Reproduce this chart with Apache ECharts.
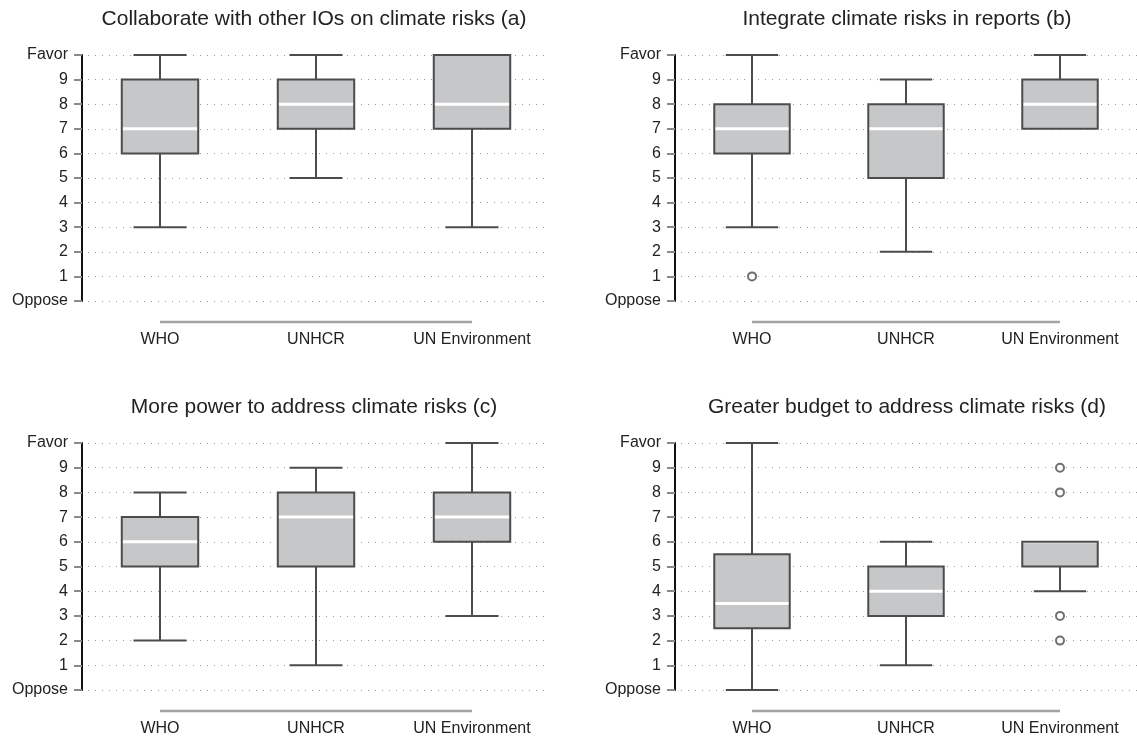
<!DOCTYPE html>
<html>
<head>
<meta charset="utf-8">
<script src="https://cdn.jsdelivr.net/npm/echarts@6/dist/echarts.min.js"></script>
<style>
html,body{margin:0;padding:0;background:#fff;}
#chart{width:1137px;height:737px;}
</style>
</head>
<body>
<div id="chart"></div>
<script>
// ---- data ----
const categories = ['WHO', 'UNHCR', 'UN Environment'];
const yTickLabels = ['Oppose', '1', '2', '3', '4', '5', '6', '7', '8', '9', 'Favor'];
const panelTitles = [
  'Collaborate with other IOs on climate risks (a)',
  'Integrate climate risks in reports (b)',
  'More power to address climate risks (c)',
  'Greater budget to address climate risks (d)'
];
// [min, q1, median, q3, max] per category
const statsA = [[3, 6, 7, 9, 10], [5, 7, 8, 9, 10], [3, 7, 8, 10, 10]];
const statsB = [[3, 6, 7, 8, 10], [2, 5, 7, 8, 9], [7, 7, 8, 9, 10]];
const statsC = [[2, 5, 6, 7, 8], [1, 5, 7, 8, 9], [3, 6, 7, 8, 10]];
const statsD = [[0, 2.5, 3.5, 5.5, 10], [1, 3, 4, 5, 6], [4, 5, 6, 6, 6]];
const outliersA = [];
const outliersB = [['WHO', 1]];
const outliersC = [];
const outliersD = [['UN Environment', 9], ['UN Environment', 8], ['UN Environment', 3], ['UN Environment', 2]];

// ---- layout ----
const allStats = [statsA, statsB, statsC, statsD];
const allOutliers = [outliersA, outliersB, outliersC, outliersD];
const gridPos = [
  { left: 82, top: 55, width: 468, height: 246 },
  { left: 675, top: 55, width: 468, height: 246 },
  { left: 82, top: 443, width: 468, height: 247 },
  { left: 675, top: 443, width: 468, height: 247 }
];
const titlePos = [
  { left: 314, top: 9 }, { left: 907, top: 9 },
  { left: 314, top: 397 }, { left: 907, top: 397 }
];
const FONT = '"Liberation Sans", Arial, Helvetica, sans-serif';
const BOX_FILL = '#c6c7c9';
const BOX_LINE = '#4c4c4c';

function boxRender(params, api) {
  const xi = api.value(0);
  const vmin = api.value(1), q1 = api.value(2), med = api.value(3), q3 = api.value(4), vmax = api.value(5);
  const band = api.size([1, 0])[0];
  const bw = band * 0.49, cw = band * 0.34;
  const pMin = api.coord([xi, vmin]), pQ1 = api.coord([xi, q1]), pMed = api.coord([xi, med]);
  const pQ3 = api.coord([xi, q3]), pMax = api.coord([xi, vmax]);
  const cx = pMin[0];
  const ls = { stroke: BOX_LINE, lineWidth: 2, fill: null };
  const children = [];
  if (vmax > q3) {
    children.push({ type: 'line', shape: { x1: cx, y1: pQ3[1], x2: cx, y2: pMax[1] }, style: ls });
    children.push({ type: 'line', shape: { x1: cx - cw / 2, y1: pMax[1], x2: cx + cw / 2, y2: pMax[1] }, style: ls });
  }
  if (vmin < q1) {
    children.push({ type: 'line', shape: { x1: cx, y1: pQ1[1], x2: cx, y2: pMin[1] }, style: ls });
    children.push({ type: 'line', shape: { x1: cx - cw / 2, y1: pMin[1], x2: cx + cw / 2, y2: pMin[1] }, style: ls });
  }
  const rect = { x: cx - bw / 2, y: pQ3[1], width: bw, height: pQ1[1] - pQ3[1] };
  children.push({ type: 'rect', shape: rect, style: { fill: BOX_FILL, stroke: null } });
  children.push({ type: 'line', shape: { x1: cx - bw / 2, y1: pMed[1], x2: cx + bw / 2, y2: pMed[1] }, style: { stroke: '#ffffff', lineWidth: 3 } });
  children.push({ type: 'rect', shape: rect, style: { fill: null, stroke: BOX_LINE, lineWidth: 2 } });
  return { type: 'group', children: children };
}

function baseRender(params, api) {
  const p0 = api.coord([api.value(0), 0]);
  const p1 = api.coord([api.value(1), 0]);
  return {
    type: 'line',
    shape: { x1: p0[0], y1: p0[1] + 21, x2: p1[0], y2: p1[1] + 21 },
    style: { stroke: '#a3a3a3', lineWidth: 2.5 }
  };
}

const option = {
  backgroundColor: '#ffffff',
  animation: false,
  title: panelTitles.map((t, i) => ({
    text: t,
    left: titlePos[i].left,
    top: titlePos[i].top,
    textAlign: 'center',
    padding: 0,
    textStyle: { fontFamily: FONT, fontSize: 21, fontWeight: 'normal', color: '#222' }
  })),
  grid: gridPos.map(g => Object.assign({ containLabel: false }, g)),
  xAxis: gridPos.map((g, i) => ({
    type: 'category',
    gridIndex: i,
    data: categories,
    boundaryGap: true,
    axisLine: { show: false },
    axisTick: { show: false },
    splitLine: { show: false },
    axisLabel: { show: true, margin: 31, fontFamily: FONT, fontSize: 16, color: '#222' }
  })),
  yAxis: gridPos.map((g, i) => ({
    type: 'value',
    gridIndex: i,
    min: 0, max: 10, interval: 1,
    axisLine: { show: true, lineStyle: { color: '#111', width: 2 } },
    axisTick: { show: true, length: 8, lineStyle: { color: '#8a8a8a', width: 2 } },
    axisLabel: {
      margin: 14, fontFamily: FONT, fontSize: 16, color: '#222',
      formatter: v => yTickLabels[Math.round(v)]
    },
    splitLine: { show: true, lineStyle: { color: '#9a9a9a', width: 1, type: [1, 6], dashOffset: 1 } }
  })),
  series: []
};

allStats.forEach((stats, i) => {
  option.series.push({
    type: 'custom',
    xAxisIndex: i, yAxisIndex: i,
    renderItem: boxRender,
    clip: false,
    encode: { x: 0, y: [1, 2, 3, 4, 5] },
    data: stats.map((s, k) => [k].concat(s)),
    z: 3
  });
  option.series.push({
    type: 'custom',
    xAxisIndex: i, yAxisIndex: i,
    renderItem: baseRender,
    clip: false,
    encode: { x: [0, 1] },
    data: [[0, categories.length - 1]],
    z: 2
  });
  option.series.push({
    type: 'scatter',
    xAxisIndex: i, yAxisIndex: i,
    symbol: 'circle',
    symbolSize: 8,
    itemStyle: { color: '#ffffff', borderColor: '#4c4c4c', borderWidth: 2 },
    data: allOutliers[i],
    z: 4
  });
});

const chart = echarts.init(document.getElementById('chart'), null, { renderer: 'canvas' });
chart.setOption(option);
</script>
</body>
</html>
